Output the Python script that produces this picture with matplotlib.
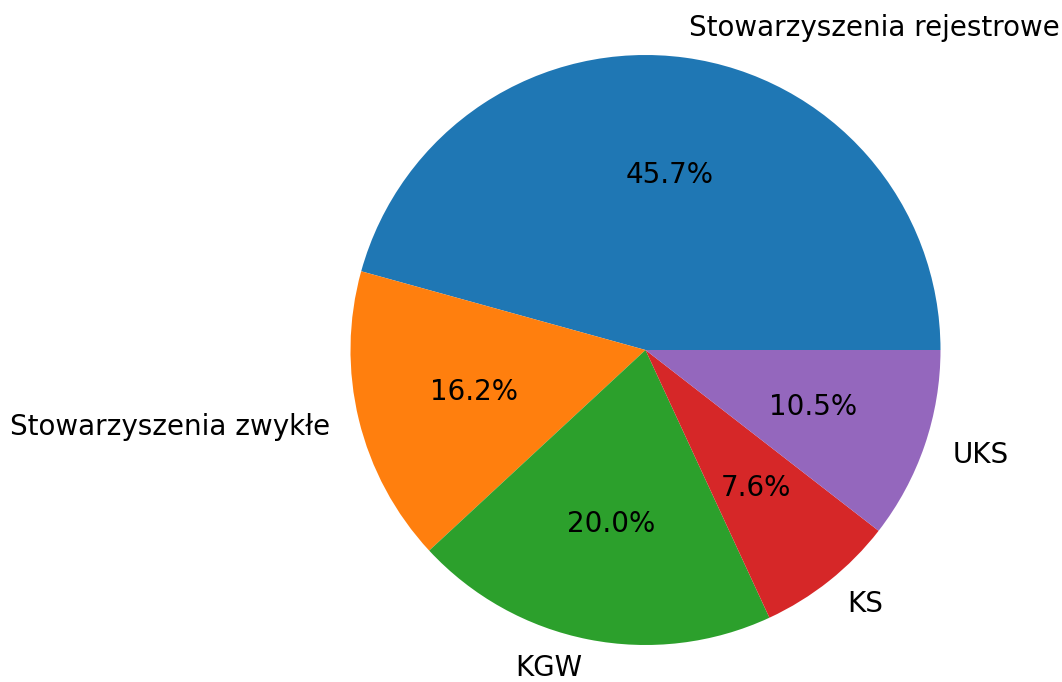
import matplotlib
matplotlib.use("Agg")
import matplotlib.pyplot as plt

labels = ["Stowarzyszenia rejestrowe", "Stowarzyszenia zwykłe", "KGW", "KS", "UKS"]
values = [45.7, 16.2, 20.0, 7.6, 10.5]

fig = plt.figure(figsize=(10.62, 6.82), dpi=100)
cx, cy, r = 645.5, 350, 295
W, H = 1062, 682
ax = fig.add_axes([(cx - r) / W, (H - cy - r) / H, 2 * r / W, 2 * r / H])
ax.pie(values, labels=labels, autopct="%1.1f%%",
       textprops={"fontsize": 20})
ax.set_xlim(-1, 1)
ax.set_ylim(-1, 1)
ax.set_aspect("equal")
fig.savefig("out.png", dpi=100)
